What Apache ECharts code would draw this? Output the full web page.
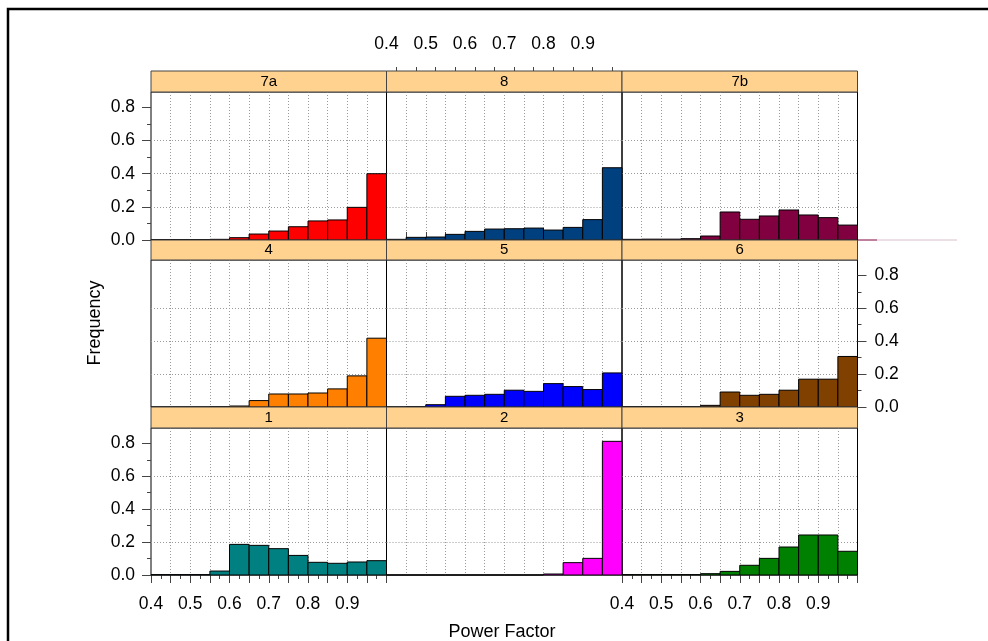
<!DOCTYPE html>
<html><head><meta charset="utf-8">
<script src="https://cdn.jsdelivr.net/npm/echarts@6/dist/echarts.min.js"></script>
<style>html,body{margin:0;padding:0;background:#fff}#c{width:988px;height:641px}</style>
</head><body><div id="c"></div><script>
// ---- data ----
const panelNames = ['7a', '8', '7b', '4', '5', '6', '1', '2', '3'];
const panelColors = ['#FF0000', '#00407F', '#800040', '#FF8000', '#0000FF', '#804000', '#008080', '#FF00FF', '#008000'];
const binEdges = [0.40, 0.45, 0.50, 0.55, 0.60, 0.65, 0.70, 0.75, 0.80, 0.85, 0.90, 0.95, 1.00];
const freq7a = [0.002, 0.003, 0.003, 0.004, 0.014, 0.036, 0.054, 0.080, 0.115, 0.121, 0.197, 0.400];
const freq8  = [0.004, 0.016, 0.018, 0.034, 0.052, 0.066, 0.068, 0.072, 0.060, 0.076, 0.123, 0.436];
const freq7b = [0.004, 0.005, 0.005, 0.008, 0.024, 0.169, 0.125, 0.145, 0.181, 0.151, 0.135, 0.090];
const freq4  = [0, 0, 0, 0.002, 0.006, 0.039, 0.079, 0.079, 0.085, 0.110, 0.189, 0.418];
const freq5  = [0, 0.002, 0.014, 0.065, 0.071, 0.077, 0.102, 0.095, 0.142, 0.124, 0.106, 0.207];
const freq6  = [0.002, 0.002, 0.002, 0.002, 0.010, 0.091, 0.071, 0.077, 0.102, 0.169, 0.169, 0.307];
const freq1  = [0.002, 0.002, 0.002, 0.024, 0.186, 0.180, 0.160, 0.119, 0.077, 0.071, 0.079, 0.087];
const freq2  = [0, 0, 0, 0, 0, 0, 0, 0, 0.006, 0.075, 0.101, 0.812];
const freq3  = [0.002, 0.002, 0.002, 0.002, 0.008, 0.022, 0.059, 0.101, 0.170, 0.243, 0.243, 0.144];
const xTickLabels = ['0.4', '0.5', '0.6', '0.7', '0.8', '0.9'];
const xMajorTicks = [0.40, 0.45, 0.50, 0.55, 0.60, 0.65, 0.70, 0.75, 0.80, 0.85, 0.90, 0.95, 1.00];
const xMinorTicks = [0.425, 0.475, 0.525, 0.575, 0.625, 0.675, 0.725, 0.775, 0.825, 0.875, 0.925, 0.975];
const yTickLabels = ['0.0', '0.2', '0.4', '0.6', '0.8'];
const yMinorTicks = [0.1, 0.3, 0.5, 0.7];
const xAxisTitle = 'Power Factor';
const yAxisTitle = 'Frequency';

const panelFreqs = [freq7a, freq8, freq7b, freq4, freq5, freq6, freq1, freq2, freq3];

// ---- layout ----
const FONT = '"Liberation Sans", Arial, sans-serif';
const colLeft = [151, 386.5, 622];
const colW = 235.5;
const panelTop = [92, 260, 428];
const panelH = [148, 147, 147];
const stripTop = [71, 240, 407];
const stripH = [21, 20, 21];
const yMax = 0.893;

const showLeftY = [0, 6];
const showRightY = [5];
const showBottomX = [6, 8];
const showTopX = [1];

const yTicks = yTickLabels.map(Number);
const xLabelVals = xTickLabels.map(Number);

const grids = [], xAxes = [], yAxes = [], series = [], graphics = [];
const dotted = { color: '#9a9a9a', width: 1, type: [1, 2] };
const tickStyle = { color: '#444', width: 1 };

panelNames.forEach((name, i) => {
  const r = Math.floor(i / 3), c = i % 3;
  grids.push({ left: colLeft[c], top: panelTop[r], width: colW, height: panelH[r],
    show: true, borderColor: '#000', borderWidth: 1, backgroundColor: 'transparent', containLabel: false, outerBoundsMode: 'none' });
  const isTop = showTopX.includes(i);
  const showX = isTop || showBottomX.includes(i);
  const xIdx = xAxes.length;
  xAxes.push({
    gridIndex: i, type: 'value', min: 0.4, max: 1.0, interval: 0.05,
    position: isTop ? 'top' : 'bottom', offset: isTop ? stripH[0] : 0,
    axisLine: { show: false },
    axisTick: { show: showX, length: 8, customValues: xMajorTicks, lineStyle: tickStyle },
    axisLabel: { show: showX, customValues: xLabelVals, margin: isTop ? 18 : 20, color: '#000', fontSize: 17.5, fontFamily: FONT,
      formatter: v => v.toFixed(1) },
    splitLine: { show: true, showMinLine: false, showMaxLine: false, lineStyle: dotted }
  });
  if (showX) {
    xAxes.push({
      gridIndex: i, type: 'value', min: 0.4, max: 1.0,
      position: isTop ? 'top' : 'bottom', offset: isTop ? stripH[0] : 0,
      axisLine: { show: false }, axisLabel: { show: false }, splitLine: { show: false },
      axisTick: { show: true, length: 4, customValues: xMinorTicks, lineStyle: tickStyle }
    });
  }
  const isLeft = showLeftY.includes(i), isRight = showRightY.includes(i);
  const showY = isLeft || isRight;
  const yIdx = yAxes.length;
  yAxes.push({
    gridIndex: i, type: 'value', min: 0, max: yMax, interval: 0.2,
    position: isRight ? 'right' : 'left',
    axisLine: { show: false },
    axisTick: { show: showY, length: 9, customValues: yTicks, lineStyle: tickStyle },
    axisLabel: { show: showY, customValues: yTicks, margin: isRight ? 17 : 16, color: '#000', fontSize: 17.5, fontFamily: FONT,
      formatter: v => v.toFixed(1) },
    splitLine: { show: true, showMinLine: false, showMaxLine: false, lineStyle: dotted }
  });
  if (showY) {
    yAxes.push({
      gridIndex: i, type: 'value', min: 0, max: yMax,
      position: isRight ? 'right' : 'left',
      axisLine: { show: false }, axisLabel: { show: false }, splitLine: { show: false },
      axisTick: { show: true, length: 4, customValues: yMinorTicks, lineStyle: tickStyle }
    });
  }
  const color = panelColors[i];
  const data = panelFreqs[i].map((v, k) => [binEdges[k], binEdges[k + 1], v]);
  series.push({
    type: 'custom', name: name, xAxisIndex: xIdx, yAxisIndex: yIdx, clip: false, z: 5,
    data: data,
    encode: { x: [0, 1], y: 2 },
    renderItem: (params, api) => {
      const p0 = api.coord([api.value(0), api.value(2)]);
      const p1 = api.coord([api.value(1), 0]);
      return { type: 'rect', shape: { x: p0[0], y: p0[1], width: p1[0] - p0[0], height: p1[1] - p0[1] },
        style: { fill: color, stroke: '#000', lineWidth: 1 } };
    }
  });
  // strip
  graphics.push({ type: 'rect', z: 10, shape: { x: colLeft[c], y: stripTop[r], width: colW, height: stripH[r] },
    style: { fill: '#FFD28F', stroke: '#444', lineWidth: 1 } });
  graphics.push({ type: 'text', z: 11, x: colLeft[c] + colW / 2, y: stripTop[r] + stripH[r] / 2,
    style: { text: name, fill: '#000', font: '15px ' + FONT, textAlign: 'center', textVerticalAlign: 'middle' } });
});

// frame and stray baseline artefact
graphics.push({ type: 'polyline', z: 12, shape: { points: [[8, 641], [8, 9], [988, 9]] }, style: { stroke: '#000', lineWidth: 2.5, fill: null } });
graphics.push({ type: 'line', z: 4, shape: { x1: 858, y1: 240, x2: 877, y2: 240 }, style: { stroke: '#800040', lineWidth: 1 } });
graphics.push({ type: 'line', z: 4, shape: { x1: 877, y1: 240, x2: 957, y2: 240 }, style: { stroke: '#d8bfcb', lineWidth: 1 } });
// axis titles
graphics.push({ type: 'text', x: 95, y: 323, rotation: Math.PI / 2,
  style: { text: yAxisTitle, fill: '#000', font: '18px ' + FONT, textAlign: 'center', textVerticalAlign: 'middle' } });
graphics.push({ type: 'text', x: 502, y: 632,
  style: { text: xAxisTitle, fill: '#000', font: '18px ' + FONT, textAlign: 'center', textVerticalAlign: 'middle' } });

const chart = echarts.init(document.getElementById('c'), null, { renderer: 'canvas' });
chart.setOption({
  animation: false,
  backgroundColor: '#fff',
  textStyle: { fontFamily: FONT },
  grid: grids, xAxis: xAxes, yAxis: yAxes, series: series, graphic: graphics
});
</script></body></html>
